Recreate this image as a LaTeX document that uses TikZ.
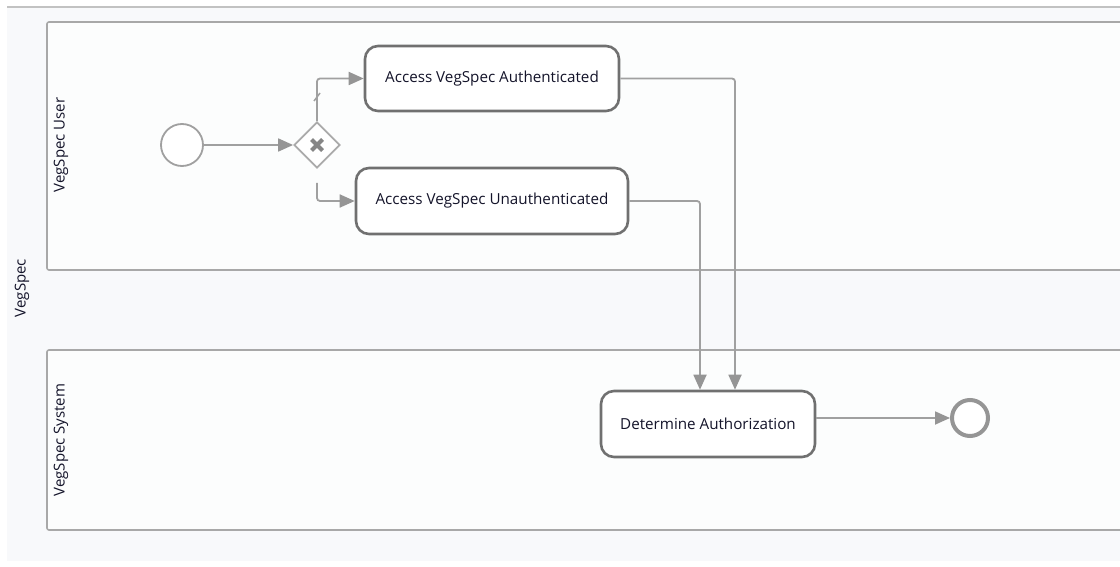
\documentclass[tikz,border=0pt]{standalone}
\usepackage{fontspec}
\setmainfont{Open Sans}
\usetikzlibrary{arrows.meta,shapes.geometric}
\definecolor{poolbg}{HTML}{F8F9FB}
\definecolor{lanebg}{HTML}{FCFDFD}
\definecolor{laneline}{HTML}{A8A8A8}
\definecolor{taskline}{HTML}{707070}
\definecolor{flowc}{HTML}{A0A0A0}
\definecolor{tipc}{HTML}{959595}
\definecolor{txt}{HTML}{14142A}
\tikzset{
  lanebox/.style={draw=laneline,line width=1.6pt,fill=lanebg,rounded corners=2pt},
  task/.style={draw=taskline,line width=2.6pt,fill=white,rounded corners=13pt,
     text=txt,font=\fontsize{15.2}{17}\selectfont,inner sep=0pt},
  flow/.style={draw=flowc,line width=1.8pt,rounded corners=3pt,
     -{Triangle[length=15pt,width=13pt,color=tipc]}},
  lanelabel/.style={rotate=90,text=txt,font=\fontsize{15}{17}\selectfont,inner sep=0pt},
  evt/.style={circle,draw=flowc,fill=white,inner sep=0pt}
}
\begin{document}
\begin{tikzpicture}[x=1pt,y=-1pt]
\useasboundingbox (0,0) rectangle (1120,567);
\fill[white] (0,0) rectangle (1120,567);
\fill[poolbg] (7,8) rectangle (1120,561);
\draw[draw=laneline!70,line width=1.6pt] (7,7) -- (1120,7);
% lanes
\draw[lanebox] (1124,22) -- (47,22) -- (47,270) -- (1124,270);
\draw[lanebox] (1124,350) -- (47,350) -- (47,530) -- (1124,530);
\node[lanelabel] (lpool) at (22,288) {VegSpec};
\node[lanelabel] (luser) at (61,145) {VegSpec User};
\node[lanelabel] (lsys) at (61,440) {VegSpec System};
% nodes
\node[evt,line width=1.8pt,minimum size=42pt] (start) at (182,145) {};
\node[diamond,draw=flowc!90,line width=1.8pt,fill=white,minimum width=46pt,minimum height=46pt,inner sep=0pt] (gw) at (317,145) {};
\draw[draw=taskline!85,line width=4pt] ([shift={(-5.5,-5.5)}]gw.center) -- ([shift={(5.5,5.5)}]gw.center);
\draw[draw=taskline!85,line width=4pt] ([shift={(-5.5,5.5)}]gw.center) -- ([shift={(5.5,-5.5)}]gw.center);
\node[task,minimum width=254pt,minimum height=65pt] (t1) at (492,78.5) {Access VegSpec Authenticated};
\node[task,minimum width=272pt,minimum height=66pt] (t2) at (492,201) {Access VegSpec Unauthenticated};
\node[task,minimum width=214pt,minimum height=66pt] (t3) at (708,424) {Determine Authorization};
\node[evt,draw=tipc,line width=4pt,minimum size=36pt] (end) at (970,418) {};
% flows
\draw[flow] (start) -- (gw);
\draw[flow] (gw.north) |- (t1.west);
\draw[draw=flowc,line width=1.5pt] (314,101) -- (320,93);
\draw[flow] ([yshift=-14pt]gw.south) |- (t2.west);
\draw[flow] (t1.east) -| ([xshift=27pt]t3.north);
\draw[flow] (t2.east) -| ([xshift=-8pt]t3.north);
\draw[flow] (t3.east |- end) -- (end);
\end{tikzpicture}
\end{document}
